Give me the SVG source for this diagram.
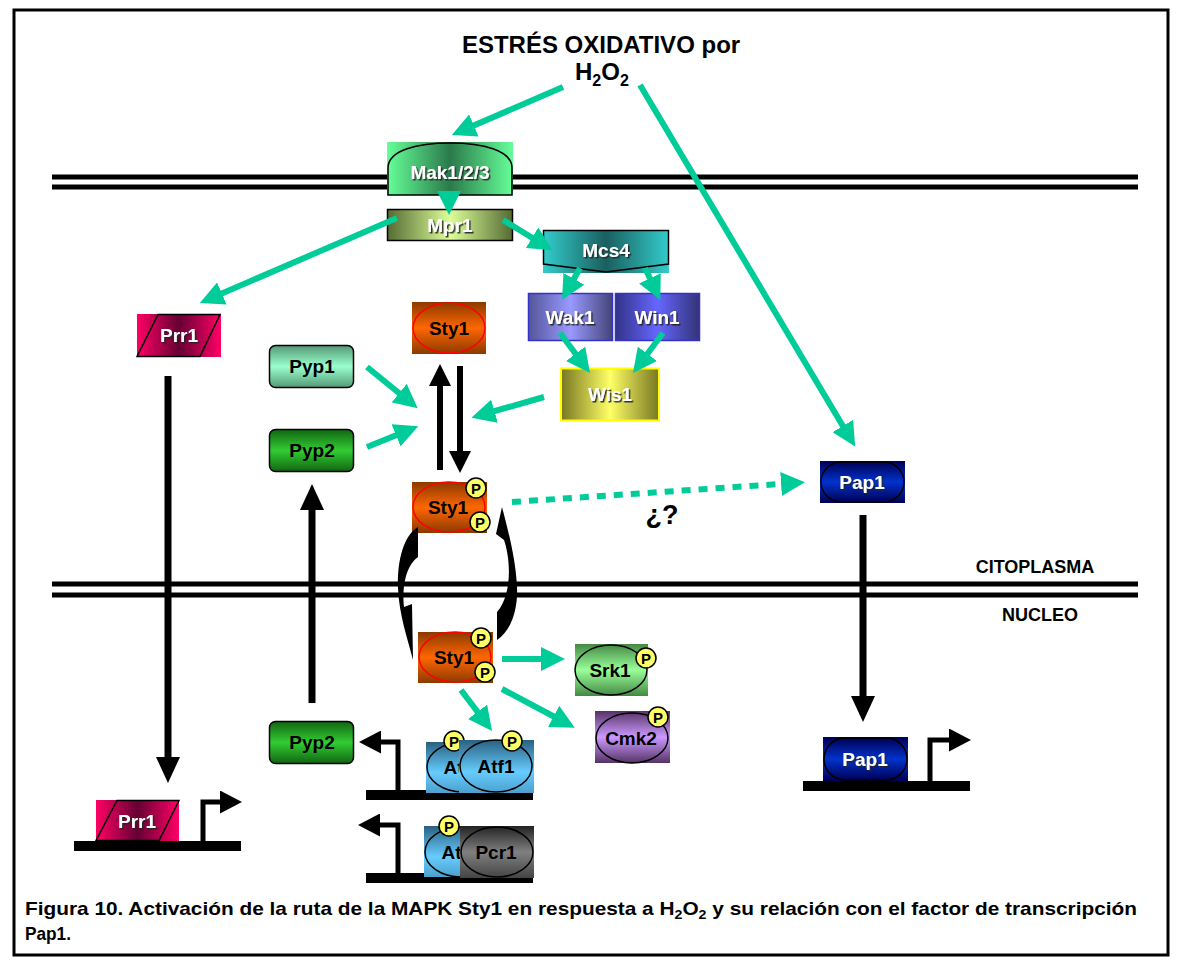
<svg xmlns="http://www.w3.org/2000/svg" width="1178" height="961" viewBox="0 0 1178 961">
<style>
.lbl{font-family:"Liberation Sans",Arial,sans-serif;font-weight:bold;font-size:19px;text-anchor:middle}
.w{fill:#fff;filter:url(#sh)}
.k{fill:#000}
.p{font-family:"Liberation Sans",Arial,sans-serif;font-weight:bold;font-size:15px;text-anchor:middle;fill:#000}
.pc{fill:#ffff66;stroke:#000;stroke-width:1.5}
.g{stroke:#00cc99;stroke-width:6;fill:none;marker-end:url(#ag)}
.mem{stroke:#000;stroke-width:5}
.ell{fill:none;stroke:#000;stroke-width:1.5}
.big{font-family:"Liberation Sans",Arial,sans-serif;font-weight:bold;fill:#000}
</style>
<defs>
<filter id="sh" x="-20%" y="-20%" width="140%" height="160%"><feDropShadow dx="1.5" dy="1.5" stdDeviation="0.6" flood-color="#222" flood-opacity="0.9"/></filter>
<marker id="ag" markerUnits="userSpaceOnUse" markerWidth="24" markerHeight="24" refX="14" refY="12" orient="auto"><path d="M0,0 L24,12 L0,24 z" fill="#00cc99"/></marker>
<marker id="ab" markerUnits="userSpaceOnUse" markerWidth="26" markerHeight="24" refX="14" refY="12" orient="auto"><path d="M0,0 L26,12 L0,24 z" fill="#000"/></marker>
<marker id="as" markerUnits="userSpaceOnUse" markerWidth="22" markerHeight="22" refX="12" refY="11" orient="auto"><path d="M0,0 L22,11 L0,22 z" fill="#000"/></marker>
<marker id="ap" markerUnits="userSpaceOnUse" markerWidth="22" markerHeight="23" refX="12" refY="11.5" orient="auto"><path d="M0,0 L22,11.5 L0,23 z" fill="#000"/></marker>
<linearGradient id="gMak"><stop offset="0" stop-color="#66ff99"/><stop offset="0.5" stop-color="#2a7a4a"/><stop offset="1" stop-color="#66ff99"/></linearGradient>
<linearGradient id="gMpr"><stop offset="0" stop-color="#556b33"/><stop offset="0.5" stop-color="#ddff99"/><stop offset="1" stop-color="#556b33"/></linearGradient>
<linearGradient id="gMcs"><stop offset="0" stop-color="#33cccc"/><stop offset="0.5" stop-color="#1a5f5f"/><stop offset="1" stop-color="#33cccc"/></linearGradient>
<linearGradient id="gWak"><stop offset="0" stop-color="#555599"/><stop offset="0.5" stop-color="#9999ff"/><stop offset="1" stop-color="#444477"/></linearGradient>
<linearGradient id="gWin"><stop offset="0" stop-color="#333388"/><stop offset="0.5" stop-color="#6666ff"/><stop offset="1" stop-color="#333377"/></linearGradient>
<linearGradient id="gWis"><stop offset="0" stop-color="#777722"/><stop offset="0.5" stop-color="#ffff66"/><stop offset="1" stop-color="#777722"/></linearGradient>
<linearGradient id="gPrr"><stop offset="0" stop-color="#ff0066"/><stop offset="0.5" stop-color="#660033"/><stop offset="1" stop-color="#ff0066"/></linearGradient>
<linearGradient id="gSty" x1="0" y1="0" x2="0" y2="1"><stop offset="0" stop-color="#8b3a00"/><stop offset="0.5" stop-color="#ff6600"/><stop offset="1" stop-color="#8b3a00"/></linearGradient>
<linearGradient id="gPyp1" x1="0" y1="0" x2="0" y2="1"><stop offset="0" stop-color="#559977"/><stop offset="0.5" stop-color="#99ffcc"/><stop offset="1" stop-color="#559977"/></linearGradient>
<linearGradient id="gPyp2" x1="0" y1="0" x2="0" y2="1"><stop offset="0" stop-color="#116611"/><stop offset="0.5" stop-color="#33cc33"/><stop offset="1" stop-color="#116611"/></linearGradient>
<linearGradient id="gPap" x1="0" y1="0" x2="0" y2="1"><stop offset="0" stop-color="#000055"/><stop offset="0.5" stop-color="#0033cc"/><stop offset="1" stop-color="#000055"/></linearGradient>
<linearGradient id="gSrk" x1="0" y1="0" x2="0" y2="1"><stop offset="0" stop-color="#448844"/><stop offset="0.5" stop-color="#99ff99"/><stop offset="1" stop-color="#448844"/></linearGradient>
<linearGradient id="gCmk" x1="0" y1="0" x2="0" y2="1"><stop offset="0" stop-color="#553366"/><stop offset="0.5" stop-color="#cc99ff"/><stop offset="1" stop-color="#553366"/></linearGradient>
<linearGradient id="gAtf" x1="0" y1="0" x2="0" y2="1"><stop offset="0" stop-color="#2a6080"/><stop offset="0.6" stop-color="#66ccff"/><stop offset="1" stop-color="#4d9fcc"/></linearGradient>
<linearGradient id="gPcr" x1="0" y1="0" x2="0" y2="1"><stop offset="0" stop-color="#222222"/><stop offset="0.5" stop-color="#808080"/><stop offset="1" stop-color="#444444"/></linearGradient>
</defs>
<rect x="0" y="0" width="1178" height="961" fill="#fff"/>
<rect x="14" y="10" width="1154" height="945" fill="none" stroke="#000" stroke-width="3"/>

<g id="membranes">
<line class="mem" x1="52" y1="177" x2="1138" y2="177"/>
<line class="mem" x1="52" y1="187" x2="1138" y2="187"/>
<line class="mem" x1="52" y1="584" x2="1138" y2="584"/>
<line class="mem" x1="52" y1="595" x2="1138" y2="595"/>
</g>

<g id="title">
<text class="big" x="601" y="53" font-size="24" text-anchor="middle">ESTRÉS OXIDATIVO por</text>
<text class="big" x="575" y="80" font-size="24">H<tspan font-size="16" dy="6">2</tspan><tspan dy="-6">O</tspan><tspan font-size="16" dy="6">2</tspan></text>
</g>

<g id="labels">
<text class="big" x="1035" y="573" font-size="18" text-anchor="middle">CITOPLASMA</text>
<text class="big" x="1040" y="621" font-size="18" text-anchor="middle">NUCLEO</text>
<text class="big" x="662" y="524" font-size="27" text-anchor="middle">¿?</text>
</g>

<g id="promoters">
<rect x="74" y="841" width="167" height="10" fill="#000"/>
<rect x="366" y="790" width="167" height="10" fill="#000"/>
<rect x="366" y="873" width="167" height="10" fill="#000"/>
<rect x="803" y="781" width="167" height="10" fill="#000"/>
</g>

<g id="Mak">
<rect x="387" y="142" width="126" height="53" fill="url(#gMak)"/>
<path d="M388,195 L388,168 C388,150 418,143 450,143 C482,143 512,150 512,168 L512,195 Z" fill="none" stroke="#000" stroke-width="1.5"/>
<text class="lbl w" x="450" y="179" font-size="20">Mak1/2/3</text>
</g>
<g id="Mpr1">
<rect x="387.5" y="209.5" width="125" height="31" fill="url(#gMpr)" stroke="#000" stroke-width="1.5"/>
<text class="lbl w" x="450" y="232">Mpr1</text>
</g>
<g id="Mcs4">
<rect x="543" y="230" width="126" height="43" fill="url(#gMcs)"/>
<path d="M543.5,230.5 L668.5,230.5 L668.5,264 L606,272 L543.5,264 Z" fill="none" stroke="#000" stroke-width="1.5"/>
<text class="lbl w" x="606" y="257">Mcs4</text>
</g>
<g id="Wak1">
<rect x="528.5" y="293.5" width="84" height="47" fill="url(#gWak)" stroke="#3333cc" stroke-width="1.5"/>
<text class="lbl w" x="570" y="324">Wak1</text>
</g>
<g id="Win1">
<rect x="615.5" y="293.5" width="84" height="47" fill="url(#gWin)" stroke="#3333cc" stroke-width="1.5"/>
<text class="lbl w" x="657" y="324">Win1</text>
</g>
<g id="Wis1">
<rect x="561" y="368.5" width="98" height="52" fill="url(#gWis)" stroke="#ffff00" stroke-width="2"/>
<text class="lbl w" x="610" y="401">Wis1</text>
</g>
<g id="Sty1_top">
<rect x="412" y="302" width="74" height="52" fill="url(#gSty)"/>
<ellipse cx="449" cy="328" rx="36" ry="25" fill="none" stroke="#ff0000" stroke-width="1.5"/>
<text class="lbl k" x="449" y="335">Sty1</text>
</g>
<g id="Pyp1">
<rect x="269.5" y="345.5" width="84" height="42" rx="6" fill="url(#gPyp1)" stroke="#000" stroke-width="1.5"/>
<text class="lbl k" x="312" y="373">Pyp1</text>
</g>
<g id="Pyp2_top">
<rect x="269.5" y="429.5" width="84" height="42" rx="6" fill="url(#gPyp2)" stroke="#000" stroke-width="1.5"/>
<text class="lbl k" x="312" y="457">Pyp2</text>
</g>
<g id="Prr1_top">
<rect x="137" y="314" width="84" height="43" fill="url(#gPrr)"/>
<path d="M158,314.5 L220,314.5 L200,356.5 L137,356.5 Z" fill="none" stroke="#000" stroke-width="1.5"/>
<text class="lbl w" x="179" y="342">Prr1</text>
</g>
<g id="Pap1_top">
<rect x="820" y="461" width="85" height="42" fill="url(#gPap)"/>
<rect x="821" y="462" width="83" height="40" rx="20" fill="url(#gPap)" stroke="#000" stroke-width="1.5"/>
<text class="lbl w" x="862" y="489">Pap1</text>
</g>
<g id="Sty1P">
<rect x="412" y="482" width="75" height="51" fill="url(#gSty)"/>
<ellipse cx="449" cy="507" rx="36" ry="25" fill="none" stroke="#ff0000" stroke-width="1.5"/>
<text class="lbl k" x="448" y="514">Sty1</text>
<circle class="pc" cx="476" cy="488" r="10"/><text class="p" x="476" y="493.5">P</text>
<circle class="pc" cx="480" cy="522" r="10"/><text class="p" x="480" y="527.5">P</text>
</g>
<g id="Sty1_nuc">
<rect x="418" y="632" width="75" height="51" fill="url(#gSty)"/>
<ellipse cx="455" cy="657" rx="36" ry="25" fill="none" stroke="#ff0000" stroke-width="1.5"/>
<text class="lbl k" x="454" y="664">Sty1</text>
<circle class="pc" cx="481" cy="638" r="10"/><text class="p" x="481" y="643.5">P</text>
<circle class="pc" cx="485" cy="672" r="10"/><text class="p" x="485" y="677.5">P</text>
</g>
<g id="Srk1">
<rect x="575" y="644" width="73" height="52" fill="url(#gSrk)"/>
<ellipse cx="611" cy="670" rx="36" ry="25" class="ell"/>
<text class="lbl k" x="610" y="677">Srk1</text>
<circle class="pc" cx="646" cy="658" r="10"/><text class="p" x="646" y="663.5">P</text>
</g>
<g id="Cmk2">
<rect x="595" y="711" width="75" height="52" fill="url(#gCmk)"/>
<ellipse cx="632" cy="738" rx="36" ry="25" class="ell"/>
<text class="lbl k" x="631" y="745">Cmk2</text>
<circle class="pc" cx="658" cy="717" r="10"/><text class="p" x="658" y="722.5">P</text>
</g>
<g id="Atf1_a">
<rect x="426" y="742" width="74" height="51" fill="url(#gAtf)"/>
<ellipse cx="463" cy="767" rx="36" ry="25" class="ell"/>
<text class="lbl k" x="462" y="774">Atf1</text>
<circle class="pc" cx="454" cy="741" r="10"/><text class="p" x="454" y="746.5">P</text>
</g>
<g id="Atf1_b">
<rect x="459" y="740" width="75" height="53" fill="url(#gAtf)"/>
<ellipse cx="496" cy="766" rx="36" ry="26" class="ell"/>
<text class="lbl k" x="496" y="773">Atf1</text>
<circle class="pc" cx="512" cy="741" r="10"/><text class="p" x="512" y="746.5">P</text>
</g>
<g id="Atf1_c">
<rect x="424" y="826" width="74" height="51" fill="url(#gAtf)"/>
<ellipse cx="461" cy="852" rx="36" ry="25" class="ell"/>
<text class="lbl k" x="460" y="859">Atf1</text>
<circle class="pc" cx="449" cy="826" r="10"/><text class="p" x="449" y="831.5">P</text>
</g>
<g id="Pcr1">
<rect x="460" y="826" width="74" height="52" fill="url(#gPcr)"/>
<ellipse cx="497" cy="852" rx="36" ry="25" class="ell"/>
<text class="lbl k" x="496" y="859">Pcr1</text>
</g>
<g id="Pyp2_nuc">
<rect x="269.5" y="721.5" width="84" height="42" rx="6" fill="url(#gPyp2)" stroke="#000" stroke-width="1.5"/>
<text class="lbl k" x="312" y="749">Pyp2</text>
</g>
<g id="Prr1_nuc">
<rect x="96" y="800" width="83" height="41" fill="url(#gPrr)"/>
<path d="M117,800.5 L179,800.5 L159,840.5 L96,840.5 Z" fill="none" stroke="#000" stroke-width="1.5"/>
<text class="lbl w" x="137" y="828">Prr1</text>
</g>
<g id="Pap1_nuc">
<rect x="823" y="737" width="85" height="44" fill="url(#gPap)"/>
<rect x="824" y="738" width="83" height="42" rx="21" fill="url(#gPap)" stroke="#000" stroke-width="1.5"/>
<text class="lbl w" x="865" y="766">Pap1</text>
</g>

<g id="connectors">
<line class="g" x1="563" y1="87" x2="461" y2="131"/>
<line class="g" x1="640" y1="85" x2="850" y2="438"/>
<line class="g" x1="449" y1="195" x2="449" y2="205"/>
<line class="g" x1="397" y1="218" x2="209" y2="299"/>
<line class="g" x1="503" y1="220" x2="544" y2="245"/>
<line class="g" x1="580" y1="268" x2="567" y2="291"/>
<line class="g" x1="645" y1="268" x2="656" y2="291"/>
<line class="g" x1="560" y1="333" x2="584" y2="365"/>
<line class="g" x1="663" y1="333" x2="639" y2="365"/>
<line class="g" x1="544" y1="397" x2="481" y2="415"/>
<line class="g" x1="367" y1="367" x2="410" y2="402"/>
<line class="g" x1="367" y1="447" x2="409" y2="430"/>
<line class="g" x1="502" y1="659" x2="555" y2="659"/>
<line class="g" x1="461" y1="690" x2="486" y2="723"/>
<line class="g" x1="502" y1="689" x2="566" y2="723"/>
<line class="g" x1="512" y1="502" x2="795" y2="483" stroke-dasharray="9 8"/>
<line x1="168" y1="376" x2="168" y2="771" stroke="#000" stroke-width="7" marker-end="url(#ab)"/>
<line x1="312" y1="703" x2="312" y2="496" stroke="#000" stroke-width="7" marker-end="url(#ab)"/>
<line x1="863" y1="515" x2="863" y2="710" stroke="#000" stroke-width="7" marker-end="url(#ab)"/>
<line x1="440" y1="470" x2="440" y2="374" stroke="#000" stroke-width="6" marker-end="url(#as)"/>
<line x1="460" y1="366" x2="460" y2="463" stroke="#000" stroke-width="6" marker-end="url(#as)"/>
<path d="M398,795 L398,742 L369,742" fill="none" stroke="#000" stroke-width="5" marker-end="url(#ap)"/>
<path d="M398,878 L398,825 L368,825" fill="none" stroke="#000" stroke-width="5" marker-end="url(#ap)"/>
<path d="M203,846 L203,802 L232,802" fill="none" stroke="#000" stroke-width="5" marker-end="url(#ap)"/>
<path d="M930,786 L930,740 L961,740" fill="none" stroke="#000" stroke-width="5" marker-end="url(#ap)"/>
<path d="M418,527 C404,535 397,560 398,588 C399,615 408,640 413,660 L412,604 L404,607 C402,585 406,566 418,557 Z" fill="#000"/>
<path d="M497,640 C512,630 518,608 517,587 C516,560 508,530 502,507 L496,534 L504,540 C511,560 512,595 497,612 Z" fill="#000"/>
</g>

<g id="caption">
<text class="big" x="25" y="915" font-size="19" textLength="1112" lengthAdjust="spacingAndGlyphs">Figura 10. Activación de la ruta de la MAPK Sty1 en respuesta a H<tspan font-size="13" dy="4">2</tspan><tspan dy="-4">O</tspan><tspan font-size="13" dy="4">2</tspan><tspan dy="-4"> y su relación con el factor de transcripción</tspan></text>
<text class="big" x="25" y="940" font-size="19" textLength="46" lengthAdjust="spacingAndGlyphs">Pap1.</text>
</g>
</svg>
